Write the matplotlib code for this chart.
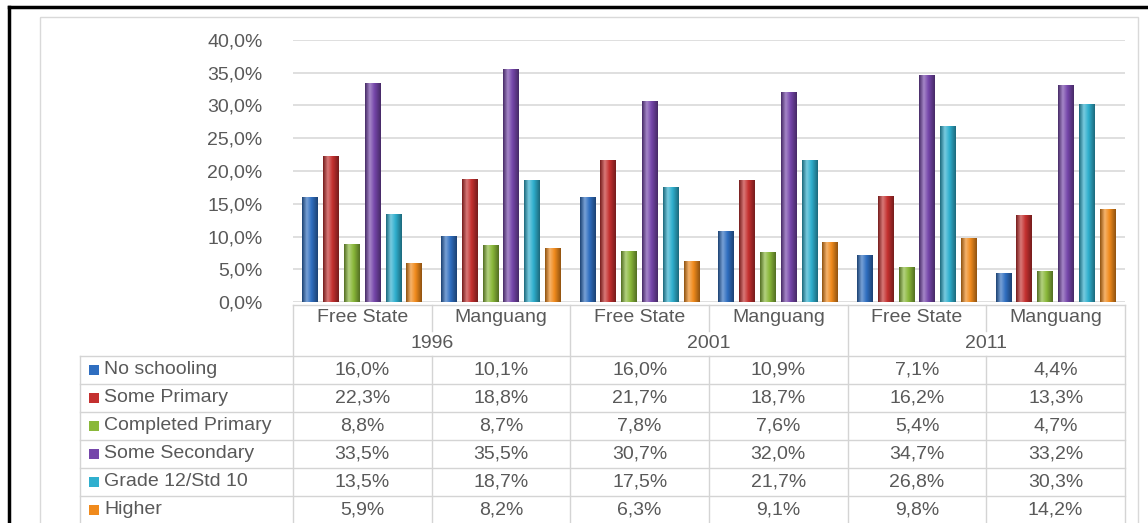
import numpy as np
import matplotlib
matplotlib.use("Agg")
import matplotlib.pyplot as plt
from matplotlib.colors import LinearSegmentedColormap, to_rgb
from matplotlib.ticker import FuncFormatter
from matplotlib.patches import Rectangle
from matplotlib.lines import Line2D

plt.rcParams['font.family'] = ['Liberation Sans', 'DejaVu Sans']

years = ['1996', '2001', '2011']
regions = ['Free State', 'Manguang']
series = ['No schooling', 'Some Primary', 'Completed Primary',
          'Some Secondary', 'Grade 12/Std 10', 'Higher']
no_schooling = [16.0, 10.1, 16.0, 10.9, 7.1, 4.4]
some_primary = [22.3, 18.8, 21.7, 18.7, 16.2, 13.3]
completed_primary = [8.8, 8.7, 7.8, 7.6, 5.4, 4.7]
some_secondary = [33.5, 35.5, 30.7, 32.0, 34.7, 33.2]
grade12 = [13.5, 18.7, 17.5, 21.7, 26.8, 30.3]
higher = [5.9, 8.2, 6.3, 9.1, 9.8, 14.2]
values = [no_schooling, some_primary, completed_primary, some_secondary, grade12, higher]
colors = ['#2F6EC0', '#C4302F', '#8AB83A', '#7546AA', '#2FAFCE', '#F08A1C']

W, H = 1148, 523
fig = plt.figure(figsize=(W / 100, H / 100), dpi=100)
fig.patch.set_facecolor('white')

# overlay axes in pixel coordinates
ov = fig.add_axes([0, 0, 1, 1])
ov.set_xlim(0, W)
ov.set_ylim(H, 0)
ov.axis('off')

txt = '#595959'
grid = '#D9D9D9'
fs = 14

# outer black frame and inner grey chart-area border
ov.add_line(Line2D([9, 9], [7, H], color='black', lw=2.5))
ov.add_line(Line2D([9, W], [7, 7], color='black', lw=2.5))
ov.add_patch(Rectangle((40, 17), 1098, H, fill=False, ec=grid, lw=1))

# chart axes
L, R, T, B = 293, 1125, 40, 302
ax = fig.add_axes([L / W, 1 - B / H, (R - L) / W, (B - T) / H])
ax.patch.set_alpha(0)
ax.set_xlim(-0.5, 5.5)
ax.set_ylim(0, 40)
ax.set_yticks(np.arange(0, 41, 5))
ax.yaxis.set_major_formatter(FuncFormatter(lambda v, p: f"{v:.1f}%".replace('.', ',')))
ax.tick_params(axis='y', length=0, pad=22, labelsize=fs, labelcolor=txt)
ax.set_xticks([])
for s in ax.spines.values():
    s.set_visible(False)
ax.grid(axis='y', color=grid, lw=1.2)
ax.set_axisbelow(True)

n_cols = len(years) * len(regions)
x = np.arange(n_cols)
bw = 0.115
step = 0.15


def shade_cmap(c):
    r = np.array(to_rgb(c))
    dark = r * 0.6
    light = np.clip(r + (1 - r) * 0.35, 0, 1)
    return LinearSegmentedColormap.from_list('g', [(0, dark), (0.3, light), (0.6, r), (1, dark)])


grad = np.linspace(0, 1, 64).reshape(1, -1)
for i, (vals, c) in enumerate(zip(values, colors)):
    xs = x + (i - 2.5) * step
    bars = ax.bar(xs, vals, width=bw, color=c, zorder=2)
    cm = shade_cmap(c)
    for b in bars:
        x0, w, h = b.get_x(), b.get_width(), b.get_height()
        im = ax.imshow(grad, cmap=cm, extent=(x0, x0 + w, 0, h), aspect='auto', zorder=3,
                       interpolation='bilinear')
        im.set_clip_path(b)
ax.set_xlim(-0.5, 5.5)
ax.set_ylim(0, 40)

# ---- data table ----
colw = (R - L) / n_cols
col_edges = [L + k * colw for k in range(n_cols + 1)]
col_ctr = [L + (k + 0.5) * colw for k in range(n_cols)]
tab_top = 305
yr_line = 356
row_h = 28
leg_left = 80
lc = '#D4D4D4'

# horizontal lines
ov.add_line(Line2D([L, R], [tab_top, tab_top], color=lc, lw=1))
for r in range(len(series) + 1):
    yy = yr_line + r * row_h
    ov.add_line(Line2D([leg_left, R], [yy, yy], color=lc, lw=1))
# vertical lines
for k, xe in enumerate(col_edges):
    if k % 2 == 0:
        ov.add_line(Line2D([xe, xe], [tab_top, H], color=lc, lw=1))
    else:
        ov.add_line(Line2D([xe, xe], [tab_top, tab_top + 26], color=lc, lw=1))
        ov.add_line(Line2D([xe, xe], [yr_line, H], color=lc, lw=1))
ov.add_line(Line2D([leg_left, leg_left], [yr_line, H], color=lc, lw=1))

# header text
for k in range(n_cols):
    ov.text(col_ctr[k], 317, regions[k % 2], ha='center', va='center', fontsize=fs, color=txt)
for j, yv in enumerate(years):
    ov.text((col_edges[2 * j] + col_edges[2 * j + 2]) / 2, 343, yv, ha='center', va='center',
            fontsize=fs, color=txt)

# rows
for r, (name, vals, c) in enumerate(zip(series, values, colors)):
    yc = yr_line + (r + 0.5) * row_h
    ov.add_patch(Rectangle((89, yc - 5), 10, 10, fc=c, ec='none'))
    ov.text(104, yc, name, ha='left', va='center', fontsize=fs, color=txt)
    for k, v in enumerate(vals):
        ov.text(col_ctr[k], yc, f"{v:.1f}%".replace('.', ','), ha='center', va='center',
                fontsize=fs, color=txt)

fig.savefig('out.png', dpi=100)
